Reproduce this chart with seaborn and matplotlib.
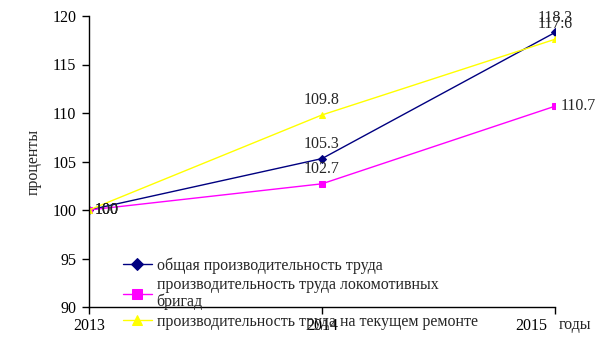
import matplotlib
matplotlib.use("Agg")
import matplotlib.pyplot as plt
from matplotlib.transforms import ScaledTranslation
import seaborn as sns
import pandas as pd

years = [2013, 2014, 2015]
series_names = [
    "общая производительность труда",
    "производительность труда локомотивных\nбригад",
    "производительность труда на текущем ремонте",
]
general = [100, 105.3, 118.3]
locomotive = [100, 102.7, 110.7]
repair = [100, 109.8, 117.6]
yticks = [90, 95, 100, 105, 110, 115, 120]

sns.set_style("white")
plt.rcParams["font.family"] = ["Liberation Serif", "DejaVu Serif"]

rows = []
for name, vals in zip(series_names, [general, locomotive, repair]):
    for y, v in zip(years, vals):
        rows.append({"year": y, "value": v, "series": name})
df = pd.DataFrame(rows)

colors = ["#000080", "#FF00FF", "#FFFF00"]
markers = ["D", "s", "^"]
msizes = [4.5, 5, 5]
leg_msizes = [6.5, 7.5, 7.5]

fig = plt.figure(figsize=(6.05, 3.4), dpi=100)
ax = fig.add_axes([89/605, 1-307/340, (555-89)/605, (307-16)/340])

for name, c, m, ms in zip(series_names, colors, markers, msizes):
    sub = df[df["series"] == name]
    sns.lineplot(data=sub, x="year", y="value", ax=ax, color=c, marker=m,
                 markersize=ms, markeredgecolor=c, linewidth=1, label=name)

fs = 11.5
ax.set_xlim(2013, 2015)
ax.set_ylim(90, 120)
ax.set_yticks(yticks)
ax.set_xticks(years)
ax.set_xticklabels([str(y) for y in years])
for s in ["top", "right"]:
    ax.spines[s].set_visible(False)
for s in ["left", "bottom"]:
    ax.spines[s].set_color("black")
    ax.spines[s].set_linewidth(1)
ax.tick_params(axis="both", direction="out", length=5, width=1, colors="black",
               labelsize=fs, left=True, bottom=True)
ax.tick_params(axis="x", pad=3)
ax.tick_params(axis="y", pad=4)
# last x tick label sits left of its tick, as in the reference
lbls = ax.get_xticklabels()
lbls[-1].set_transform(lbls[-1].get_transform() + ScaledTranslation(-24/100, 0, fig.dpi_scale_trans))
ax.set_xlabel("")
ax.set_ylabel("проценты", fontsize=fs, labelpad=8)
ax.grid(False)

# data labels
for vals, pos in zip([general, locomotive, repair],
                     [["r", "a", "a"], ["r", "a", "r"], ["r", "a", "a"]]):
    for y, v, p in zip(years, vals, pos):
        if p == "r":
            ax.annotate(f"{v:g}", (y, v), xytext=(4, 0), textcoords="offset points",
                        ha="left", va="center", fontsize=fs, clip_on=False)
        else:
            ax.annotate(f"{v:g}", (y, v), xytext=(0, 5), textcoords="offset points",
                        ha="center", va="bottom", fontsize=fs, clip_on=False)

fig.text(559/605, 1-325/340, "годы", fontsize=fs, ha="left", va="center")

leg = ax.legend(loc="upper left", bbox_to_anchor=(123/605, 1-257/340),
                bbox_transform=fig.transFigure, frameon=False, fontsize=fs,
                handlelength=1.8, handletextpad=0.3, labelspacing=0.25,
                borderaxespad=0, borderpad=0)
for t in leg.get_texts():
    t.set_linespacing(1.0)
for h, ms in zip(leg.legend_handles, leg_msizes):
    h.set_markersize(ms)

fig.savefig("out.png", dpi=100)
